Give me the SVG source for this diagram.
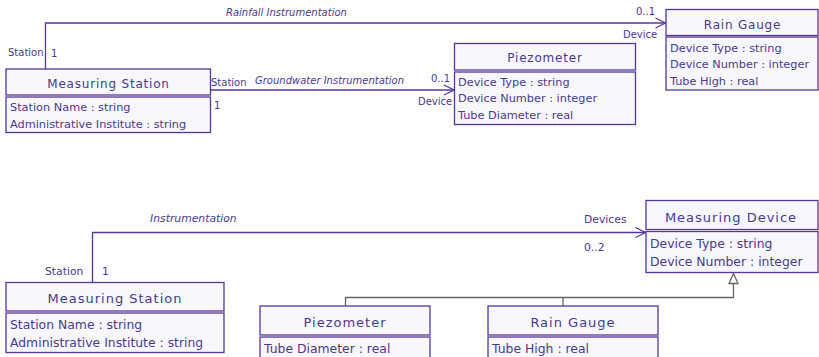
<svg xmlns="http://www.w3.org/2000/svg" width="819" height="357" viewBox="0 0 819 357">
  <style>
    text { font-family: "DejaVu Sans", Verdana, sans-serif; fill: #4a3a8c; }
    .box { fill: #f7f7fd; stroke: #55389a; stroke-width: 1.3; }
    .t1 { font-size: 12px; letter-spacing: 0.8px; text-anchor: middle; }
    .a1 { font-size: 11.3px; }
    .t2 { font-size: 13px; letter-spacing: 1px; text-anchor: middle; }
    .a2 { font-size: 12.4px; }
    .lbl { font-size: 10px; }
    .lbl2 { font-size: 10.8px; }
    .assoc { font-size: 10px; font-style: italic; }
    .assoc2 { font-size: 10.8px; font-style: italic; }
    .edge { fill: none; stroke: #55389a; stroke-width: 1.3; }
    .gen { fill: none; stroke: #666666; stroke-width: 1.3; }
  </style>
  <defs>
    <marker id="open" viewBox="0 0 12 12" refX="11" refY="6" markerWidth="12" markerHeight="12" markerUnits="userSpaceOnUse" orient="auto">
      <path d="M1,1 L11,6 L1,11" fill="none" stroke="#55389a" stroke-width="1.3"/>
    </marker>
    <marker id="tri" viewBox="0 0 12 12" refX="11" refY="6" markerWidth="12" markerHeight="12" markerUnits="userSpaceOnUse" orient="auto">
      <path d="M1,1.5 L11,6 L1,10.5 Z" fill="#ffffff" stroke="#666666" stroke-width="1.3"/>
    </marker>
  </defs>

  <!-- connectors -->
  <g id="connectors">
    <path class="edge" d="M45.5,69 V23 H665.5" marker-end="url(#open)"/>
    <path class="edge" d="M211,90 H454" marker-end="url(#open)"/>
    <path class="edge" d="M92.5,282 V232.5 H645.5" marker-end="url(#open)"/>
    <path class="gen" d="M345.5,306 V297.5 H733.5 V273.5" marker-end="url(#tri)"/>
    <path class="gen" d="M563,306 V297.5"/>

    <text class="assoc" x="226" y="16">Rainfall  Instrumentation</text>
    <text class="lbl" x="8" y="56">Station</text>
    <text class="lbl" x="51" y="57">1</text>
    <text class="lbl" x="636" y="15">0..1</text>
    <text class="lbl" x="623" y="38">Device</text>

    <text class="assoc" x="255" y="83.5">Groundwater Instrumentation</text>
    <text class="lbl" x="211" y="86">Station</text>
    <text class="lbl" x="214" y="109">1</text>
    <text class="lbl" x="431" y="81.5">0..1</text>
    <text class="lbl" x="418" y="105">Device</text>

    <text class="assoc2" x="150" y="221.5">Instrumentation</text>
    <text class="lbl2" x="45" y="275">Station</text>
    <text class="lbl2" x="102" y="275">1</text>
    <text class="lbl2" x="584" y="222.5">Devices</text>
    <text class="lbl2" x="584" y="250.5">0..2</text>
  </g>

  <!-- upper model -->
  <g id="measuring-station-1">
    <rect class="box" x="6" y="69" width="204.5" height="26"/>
    <rect class="box" x="6" y="97" width="204.5" height="35.5"/>
    <text class="t1" x="108.5" y="88">Measuring Station</text>
    <text class="a1" x="10" y="111">Station Name : string</text>
    <text class="a1" x="10" y="128">Administrative Institute : string</text>
  </g>

  <g id="piezometer-1">
    <rect class="box" x="454.5" y="43.5" width="181" height="26.5"/>
    <rect class="box" x="454.5" y="72" width="181" height="52.5"/>
    <text class="t1" x="545" y="62">Piezometer</text>
    <text class="a1" x="458" y="86">Device Type : string</text>
    <text class="a1" x="458" y="102">Device Number : integer</text>
    <text class="a1" x="458" y="118.5">Tube Diameter : real</text>
  </g>

  <g id="rain-gauge-1">
    <rect class="box" x="666" y="9.5" width="152" height="26"/>
    <rect class="box" x="666" y="37" width="152" height="53"/>
    <text class="t1" x="742.5" y="29">Rain Gauge</text>
    <text class="a1" x="670" y="52">Device Type : string</text>
    <text class="a1" x="670" y="68">Device Number : integer</text>
    <text class="a1" x="670" y="84.5">Tube High : real</text>
  </g>

  <!-- lower model -->
  <g id="measuring-station-2">
    <rect class="box" x="6" y="282.5" width="218" height="28.5"/>
    <rect class="box" x="6" y="313" width="218" height="39.5"/>
    <text class="t2" x="115" y="303">Measuring Station</text>
    <text class="a2" x="10" y="329">Station Name : string</text>
    <text class="a2" x="10" y="347">Administrative Institute : string</text>
  </g>

  <g id="measuring-device">
    <rect class="box" x="646" y="200.5" width="172" height="29"/>
    <rect class="box" x="646" y="231.5" width="172" height="41"/>
    <text class="t2" x="731" y="222">Measuring Device</text>
    <text class="a2" x="650" y="247.5">Device Type : string</text>
    <text class="a2" x="650" y="265.5">Device Number : integer</text>
  </g>

  <g id="piezometer-2">
    <rect class="box" x="260" y="306" width="170" height="29"/>
    <rect class="box" x="260" y="337" width="170" height="30"/>
    <text class="t2" x="345" y="326.5">Piezometer</text>
    <text class="a2" x="264" y="352.5">Tube Diameter : real</text>
  </g>

  <g id="rain-gauge-2">
    <rect class="box" x="488" y="306" width="170" height="29"/>
    <rect class="box" x="488" y="337" width="170" height="30"/>
    <text class="t2" x="573" y="326.5">Rain Gauge</text>
    <text class="a2" x="492" y="352.5">Tube High : real</text>
  </g>
</svg>
